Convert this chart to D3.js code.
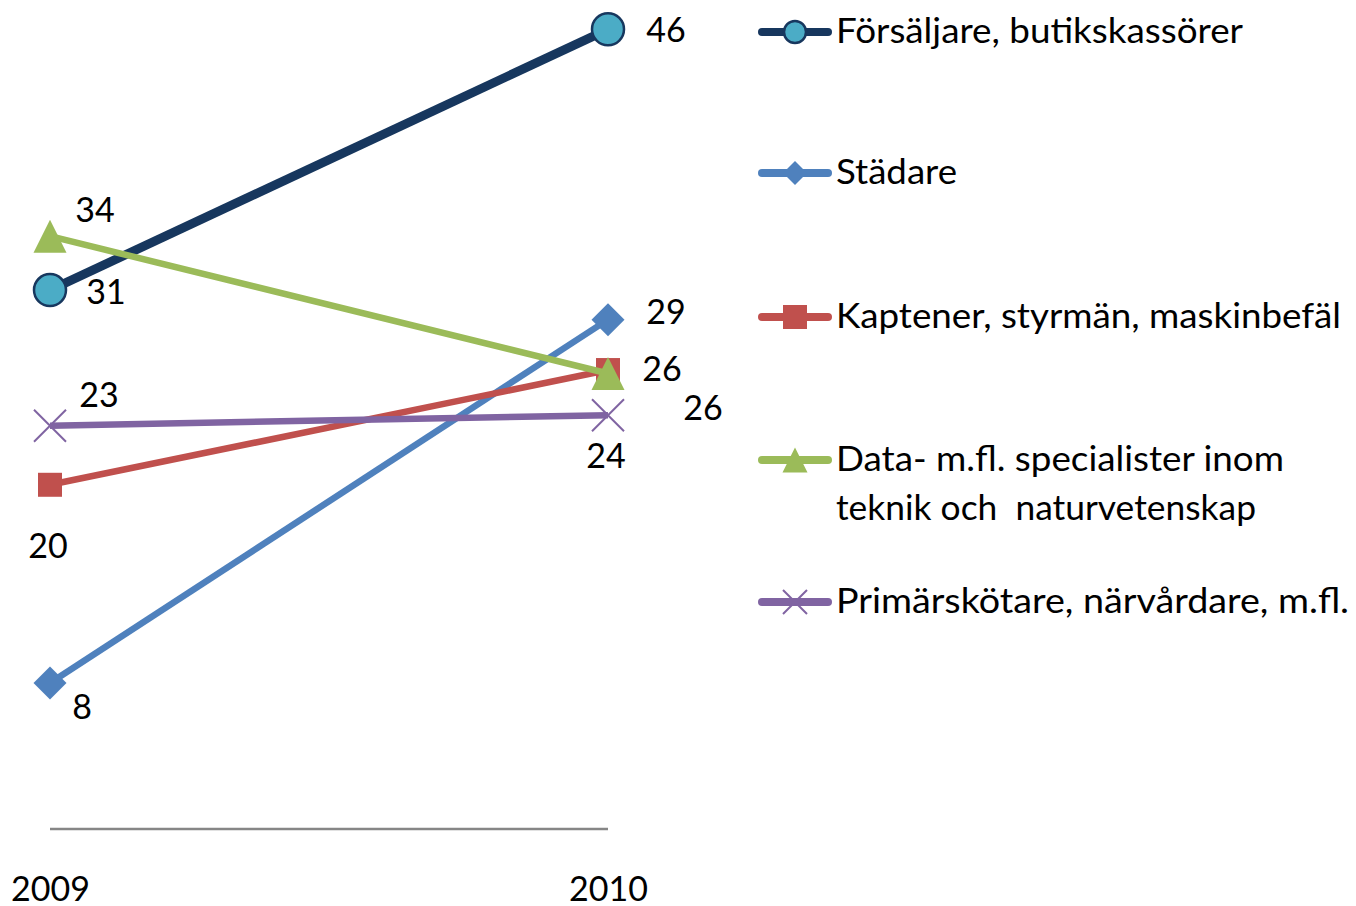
<!DOCTYPE html>
<html>
<head>
<meta charset="utf-8">
<script src="https://cdn.jsdelivr.net/npm/d3@7"></script>
<style>
  html, body { margin: 0; padding: 0; background: #ffffff; }
  svg { display: block; }
  text { font-family: Lato, "Open Sans", sans-serif; fill: #000; }
</style>
</head>
<body>
<svg id="chart" width="1356" height="906"></svg>
<script>
// ---- data ----
const years = ["2009", "2010"];
const seriesNames = [
  "Försäljare, butikskassörer",
  "Städare",
  "Kaptener, styrmän, maskinbefäl",
  "Data- m.fl. specialister inom teknik och naturvetenskap",
  "Primärskötare, närvårdare, m.fl."
];
const forsaljare = [31.0, 46.0];
const stadare    = [8.4, 29.3];
const kaptener   = [19.8, 26.4];
const dataspec   = [34.1, 26.2];
const primar     = [23.2, 23.8];

// ---- styling ----
const svg = d3.select("#chart");
const x = d3.scalePoint().domain(years).range([50, 608]);
const y = d3.scaleLinear().domain([0, 46]).range([829, 29.3]);

const styles = [
  { values: forsaljare, line: "#17375E", width: 9, marker: "circle",   fill: "#4BACC6", stroke: "#17375E",
    legendLines: ["Försäljare, butikskassörer"], legendWidths: [407], legendY: 32,
    labelOff: [[56, 2], [58, 0]] },
  { values: stadare, line: "#4F81BD", width: 6.5, marker: "diamond", fill: "#4F81BD", stroke: "none",
    legendLines: ["Städare"], legendWidths: [121], legendY: 173,
    labelOff: [[32, 24], [58, -8]] },
  { values: kaptener, line: "#C0504D", width: 6.5, marker: "square", fill: "#C0504D", stroke: "none",
    legendLines: ["Kaptener, styrmän, maskinbefäl"], legendWidths: [505], legendY: 317,
    labelOff: [[-2, 61], [54, -1]] },
  { values: dataspec, line: "#9BBB59", width: 6.5, marker: "triangle", fill: "#9BBB59", stroke: "none",
    legendLines: ["Data- m.fl. specialister inom", "teknik och  naturvetenskap"], legendWidths: [448, 420], legendY: 460,
    labelOff: [[45, -26], [95, 34]] },
  { values: primar, line: "#8064A2", width: 6.5, marker: "x", fill: "none", stroke: "#8064A2",
    legendLines: ["Primärskötare, närvårdare, m.fl."], legendWidths: [513], legendY: 602,
    labelOff: [[49, -31], [-2, 41]] }
];

function markerPath(type, s) {
  const p = d3.path();
  if (type === "circle") { p.arc(0, 0, s, 0, 2 * Math.PI); p.closePath(); }
  else if (type === "diamond") { p.moveTo(0, -s); p.lineTo(s, 0); p.lineTo(0, s); p.lineTo(-s, 0); p.closePath(); }
  else if (type === "square") { p.rect(-s, -s, 2 * s, 2 * s); }
  else if (type === "triangle") { p.moveTo(0, -s); p.lineTo(s, s); p.lineTo(-s, s); p.closePath(); }
  else if (type === "x") { p.moveTo(-s, -s); p.lineTo(s, s); p.moveTo(s, -s); p.lineTo(-s, s); }
  return p.toString();
}
const chartMarkerSize = { circle: 16, diamond: 16.5, square: 12, triangle: 16.5, x: 16 };
const legendMarkerSize = { circle: 11, diamond: 12, square: 12, triangle: 12.5, x: 12 };

// ---- axis ----
const axisG = svg.append("g").attr("transform", `translate(0,${y(0)})`)
  .call(d3.axisBottom(x).tickSize(0).tickSizeOuter(0).tickPadding(0));
axisG.select(".domain").attr("stroke", "#868686").attr("stroke-width", 2.5)
  .attr("d", `M${x(years[0])},0H${x(years[1])}`);
axisG.selectAll(".tick text")
  .attr("y", 0).attr("dy", 72)
  .style("font-family", "Lato, sans-serif").style("font-size", "34px").attr("fill", "#000");

// ---- lines ----
const lineGen = d3.line().x((d, i) => x(years[i])).y(d => y(d));
const seriesG = svg.append("g");
styles.forEach(s => {
  const g = seriesG.append("g");
  g.append("path").attr("d", lineGen(s.values))
    .attr("fill", "none").attr("stroke", s.line).attr("stroke-width", s.width);
  s.values.forEach((v, i) => {
    g.append("path")
      .attr("transform", `translate(${x(years[i])},${y(v)})`)
      .attr("d", markerPath(s.marker, chartMarkerSize[s.marker]))
      .attr("fill", s.fill)
      .attr("stroke", s.stroke)
      .attr("stroke-width", s.marker === "x" ? 2 : (s.marker === "circle" ? 2.5 : 0));
  });
});

// ---- data labels ----
const fmt = d3.format(".0f");
styles.forEach(s => {
  s.values.forEach((v, i) => {
    svg.append("text")
      .attr("x", x(years[i]) + s.labelOff[i][0])
      .attr("y", y(v) + s.labelOff[i][1])
      .attr("dy", "0.36em")
      .attr("text-anchor", "middle")
      .style("font-size", "34px")
      .text(fmt(v));
  });
});

// ---- legend ----
const lg = svg.append("g");
styles.forEach(s => {
  const cy = s.legendY;
  lg.append("line").attr("x1", 762).attr("x2", 828).attr("y1", cy).attr("y2", cy)
    .attr("stroke", s.line).attr("stroke-width", 8).attr("stroke-linecap", "round");
  lg.append("path").attr("transform", `translate(795,${cy})`)
    .attr("d", markerPath(s.marker, legendMarkerSize[s.marker]))
    .attr("fill", s.fill).attr("stroke", s.stroke)
    .attr("stroke-width", s.marker === "x" ? 2 : (s.marker === "circle" ? 2.5 : 0));
  s.legendLines.forEach((t, j) => {
    lg.append("text").attr("x", 836).attr("y", cy + 11 + j * 49)
      .style("font-size", "34px").attr("xml:space", "preserve")
      .attr("textLength", s.legendWidths[j]).attr("lengthAdjust", "spacingAndGlyphs")
      .text(t);
  });
});
</script>
</body>
</html>
